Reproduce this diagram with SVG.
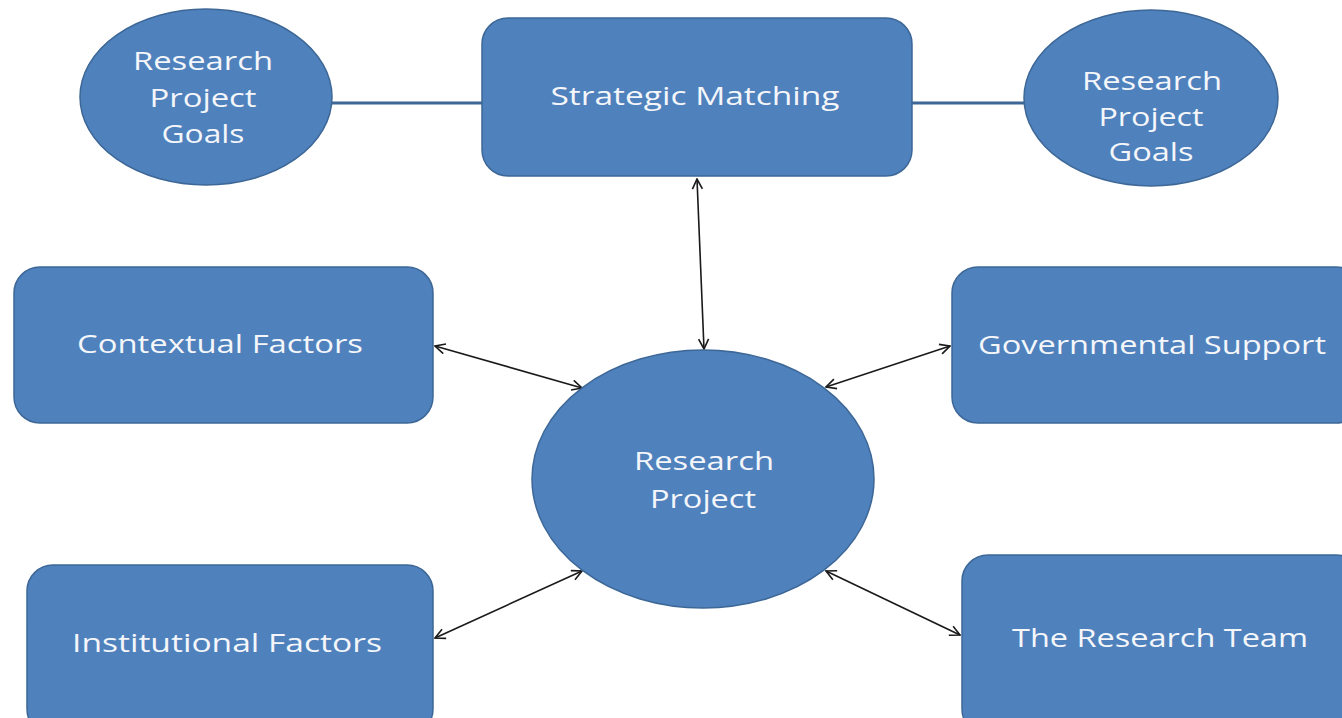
<svg xmlns="http://www.w3.org/2000/svg" width="1342" height="718" viewBox="0 0 1342 718">
  <style>
    .shape { fill: #4f81bd; stroke: #3d6796; stroke-width: 1.5; }
    .label { fill: #f4f6fa; font-family: "Open Sans", "DejaVu Sans", sans-serif; font-size: 25px; text-anchor: middle; }
    .link { stroke: #3d6796; stroke-width: 3; fill: none; }
    .arrow { stroke: #1a1a1a; stroke-width: 1.6; fill: none; marker-start: url(#head); marker-end: url(#head); }
  </style>
  <defs>
    <marker id="head" viewBox="0 0 12 12" refX="11" refY="6" markerWidth="12" markerHeight="12" markerUnits="userSpaceOnUse" orient="auto-start-reverse">
      <path d="M1,1 L11,6 L1,11" fill="none" stroke="#1a1a1a" stroke-width="1.6"/>
    </marker>
  </defs>
  <rect width="1342" height="718" fill="#ffffff"/>

  <!-- connectors -->
  <g id="connectors">
    <line class="link" x1="332" y1="103" x2="483" y2="103"/>
    <line class="link" x1="911" y1="103" x2="1025" y2="103"/>
    <line class="arrow" x1="697" y1="179" x2="704" y2="349"/>
    <line class="arrow" x1="435" y1="346" x2="582" y2="388"/>
    <line class="arrow" x1="950" y1="346" x2="826" y2="387"/>
    <line class="arrow" x1="435" y1="638" x2="582" y2="571"/>
    <line class="arrow" x1="960" y1="635" x2="826" y2="571"/>
  </g>

  <g id="goals-left">
    <ellipse class="shape" cx="206" cy="97" rx="126" ry="88"/>
    <text class="label" x="203" y="70" textLength="140" lengthAdjust="spacingAndGlyphs">Research</text>
    <text class="label" x="203" y="107" textLength="107" lengthAdjust="spacingAndGlyphs">Project</text>
    <text class="label" x="203" y="143" textLength="83" lengthAdjust="spacingAndGlyphs">Goals</text>
  </g>

  <g id="strategic-matching">
    <rect class="shape" x="482" y="18" width="430" height="158" rx="26"/>
    <text class="label" x="695" y="105" textLength="289" lengthAdjust="spacingAndGlyphs">Strategic Matching</text>
  </g>

  <g id="goals-right">
    <ellipse class="shape" cx="1151" cy="98" rx="127" ry="88"/>
    <text class="label" x="1152" y="90" textLength="140" lengthAdjust="spacingAndGlyphs">Research</text>
    <text class="label" x="1151" y="126" textLength="105" lengthAdjust="spacingAndGlyphs">Project</text>
    <text class="label" x="1151" y="161" textLength="85" lengthAdjust="spacingAndGlyphs">Goals</text>
  </g>

  <g id="contextual-factors">
    <rect class="shape" x="14" y="267" width="419" height="156" rx="26"/>
    <text class="label" x="220" y="353" textLength="286" lengthAdjust="spacingAndGlyphs">Contextual Factors</text>
  </g>

  <g id="governmental-support">
    <rect class="shape" x="952" y="267" width="410" height="156" rx="26"/>
    <text class="label" x="1152" y="354" textLength="348" lengthAdjust="spacingAndGlyphs">Governmental Support</text>
  </g>

  <g id="research-project">
    <ellipse class="shape" cx="703" cy="479" rx="171" ry="129"/>
    <text class="label" x="704" y="470" textLength="140" lengthAdjust="spacingAndGlyphs">Research</text>
    <text class="label" x="703" y="508" textLength="106" lengthAdjust="spacingAndGlyphs">Project</text>
  </g>

  <g id="institutional-factors">
    <rect class="shape" x="27" y="565" width="406" height="170" rx="26"/>
    <text class="label" x="227" y="652" textLength="310" lengthAdjust="spacingAndGlyphs">Institutional Factors</text>
  </g>

  <g id="research-team">
    <rect class="shape" x="962" y="555" width="400" height="180" rx="26"/>
    <text class="label" x="1160" y="647" textLength="296" lengthAdjust="spacingAndGlyphs">The Research Team</text>
  </g>
</svg>
